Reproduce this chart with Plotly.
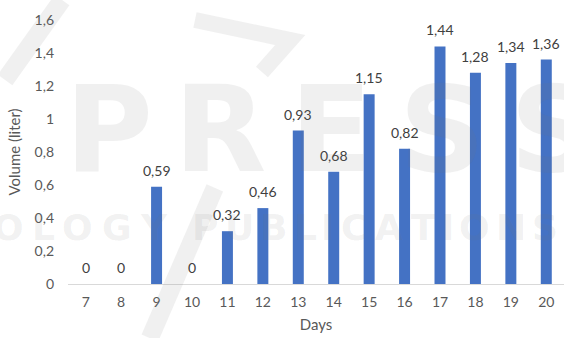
import plotly.graph_objects as go

# Daily collected volume
days = ["7", "8", "9", "10", "11", "12", "13", "14", "15", "16", "17", "18", "19", "20"]
volume = [0, 0, 0.59, 0, 0.32, 0.46, 0.93, 0.68, 1.15, 0.82, 1.44, 1.28, 1.34, 1.36]
y_ticks = [0, 0.2, 0.4, 0.6, 0.8, 1.0, 1.2, 1.4, 1.6]

labels = [f"{v:g}".replace(".", ",") for v in volume]
tick_text = [f"{v:g}".replace(".", ",") for v in y_ticks]

TXT = "#595959"
FONT = "Lato, 'Open Sans', sans-serif"

fig = go.Figure(go.Bar(
    x=days, y=volume,
    marker=dict(color="#4472C4", line=dict(width=0)),
    width=0.31,
))

# value labels sitting just above each bar (category index positions)
for i, (v, lab) in enumerate(zip(volume, labels)):
    fig.add_annotation(x=i, y=v, text=lab, showarrow=False, xanchor="center",
                       yanchor="bottom", yshift=6,
                       font=dict(family=FONT, size=14, color="#404040"))

# faint publisher watermark drawn over the chart
wm = "rgba(120,120,120,0.11)"
WM_FONT = "DejaVu Sans"


def spread(text, x_start, x_end, y, size):
    """Lay out watermark letters across a paper-coordinate span."""
    widths = {" ": 0.5, "I": 0.4, "L": 0.85, "O": 1.1, "G": 1.1, "C": 1.05}
    w = [widths.get(c, 0.95) for c in text]
    total = sum(w)
    pos = x_start
    for c, cw in zip(text, w):
        step = (x_end - x_start) * cw / total
        if c != " ":
            fig.add_annotation(text=c, x=pos + step / 2, y=y, xref="paper", yref="paper",
                               showarrow=False, xanchor="center", yanchor="middle",
                               font=dict(family=WM_FONT, size=size, color=wm, weight="bold"))
        pos += step


spread("PRESS", -0.03, 1.09, 0.585, 120)
spread("OLOGY PUBLICATIONS", -0.16, 0.995, 0.215, 36)

fig.add_shape(type="path", xref="paper", yref="paper",
              path="M 0.256,1.0 L 0.448,0.924 L 0.391,0.803",
              line=dict(color=wm, width=16), layer="above")
for x0, y0, x1, y1 in [(0.165, -0.205, 0.296, 0.364), (-0.127, 0.773, -0.012, 1.076)]:
    fig.add_shape(type="line", xref="paper", yref="paper", x0=x0, y0=y0, x1=x1, y1=y1,
                  line=dict(color=wm, width=18), layer="above")

fig.update_layout(
    width=564, height=338,
    margin=dict(l=68, r=0, t=20, b=54),
    paper_bgcolor="white", plot_bgcolor="white",
    separators=",.",
    showlegend=False,
    font=dict(family=FONT, size=14, color=TXT),
    xaxis=dict(
        type="category", range=[-0.5, len(days) - 0.5], showgrid=False,
        showline=True, linecolor="#d9d9d9", linewidth=1,
        ticks="", ticklabelstandoff=5, tickfont=dict(size=14, color=TXT),
        title=dict(text="Days", font=dict(size=15, color=TXT), standoff=10),
    ),
    yaxis=dict(
        range=[0, 1.6], tickvals=y_ticks, ticktext=tick_text, showgrid=False,
        zeroline=False, showline=False, ticks="", ticklabelstandoff=13,
        tickfont=dict(size=14, color=TXT),
        title=dict(text="Volume (liter)", font=dict(size=15, color=TXT), standoff=10),
    ),
)

fig.write_html("out.html")
